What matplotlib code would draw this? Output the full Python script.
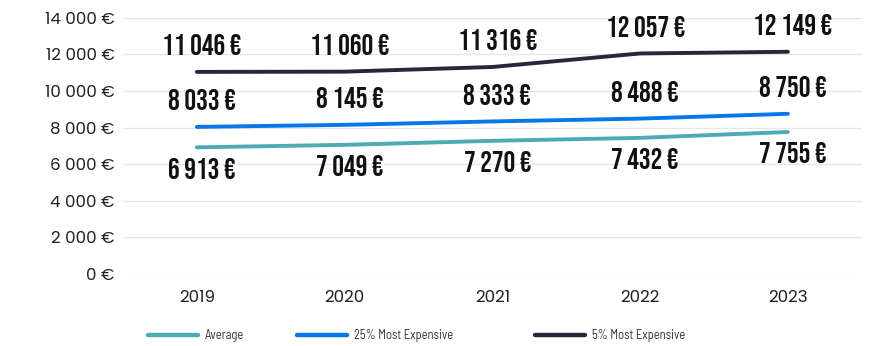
import matplotlib
matplotlib.use("Agg")
import matplotlib.pyplot as plt
from matplotlib.ticker import FuncFormatter

years = ["2019", "2020", "2021", "2022", "2023"]
average = [6913, 7049, 7270, 7432, 7755]
top_25 = [8033, 8145, 8333, 8488, 8750]
top_5 = [11046, 11060, 11316, 12057, 12149]


def euro(v):
    return f"{int(v):,}".replace(",", " ") + " €"


W, H = 874, 346
fig = plt.figure(figsize=(W / 100, H / 100), dpi=100)
ax = fig.add_axes([0.1407, 0.2095, 0.8453, 0.7385])

label_font = ["Bebas Neue", "DejaVu Sans"]
tick_font = ["Poppins", "DejaVu Sans"]
legend_font = ["Barlow Semi Condensed", "DejaVu Sans"]

# (name, values, colour, label offset in pixels, legend x in pixels)
series = [
    ("Average", average, "#4eabb3", -21, 148),
    ("25% Most Expensive", top_25, "#0a77e6", 27, 297),
    ("5% Most Expensive", top_5, "#25273a", 27, 535),
]
x = list(range(len(years)))
for name, vals, color, dy, lx in series:
    line, = ax.plot(x, vals, color=color, lw=2.8, solid_capstyle="round", label=name, zorder=3)
    for xi, v in zip(x, vals):
        ax.annotate(euro(v), (xi, v), xytext=(5, dy), textcoords="offset pixels",
                    ha="center", va="center", fontsize=21, family=label_font,
                    color="#111111", annotation_clip=False)
    # one legend per series so the entries sit where they should along the bottom
    leg = fig.legend([line], [name], loc="center left", bbox_to_anchor=(lx / W, 1 - 336 / H),
                     frameon=False, borderpad=0, borderaxespad=0, handlelength=4.0,
                     handletextpad=0.55, prop={"family": legend_font, "size": 9})
    leg.get_texts()[0].set_color("#333333")
    leg.get_lines()[0].set_linewidth(3.2)

ax.set_xlim(-0.5, 4.5)
ax.set_ylim(0, 14000)
ax.set_yticks(range(0, 14001, 2000))
ax.yaxis.set_major_formatter(FuncFormatter(lambda v, _p: euro(v)))
ax.set_xticks(x)
ax.set_xticklabels(years)
ax.grid(axis="y", color="#ece6e1", lw=1)
ax.set_axisbelow(True)
for s in ax.spines.values():
    s.set_visible(False)
ax.tick_params(length=0, labelsize=12, colors="#222222", pad=6)
ax.tick_params(axis="x", pad=12)
for t in ax.get_xticklabels() + ax.get_yticklabels():
    t.set_family(tick_font)

fig.savefig("out.png", dpi=100)
